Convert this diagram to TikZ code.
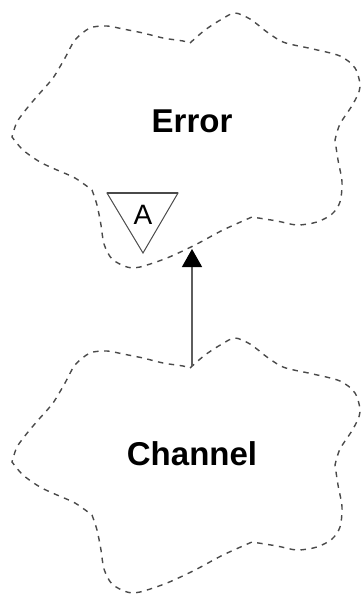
\documentclass[tikz,border=0pt]{standalone}
\usepackage{fontspec}
\setmainfont{Liberation Sans}
\usetikzlibrary{arrows.meta}
\definecolor{cloudline}{HTML}{4A4A4A}
\definecolor{linkline}{HTML}{5E5E5E}

\begin{document}
\begin{tikzpicture}[x=1pt,y=-1pt,
  cloud/.style={draw=cloudline,line width=1.4pt,dash pattern=on 5.5pt off 5.5pt},
  classname/.style={font=\fontsize{33}{36}\selectfont\bfseries,inner sep=0pt,anchor=base},
  adorn/.style={draw=cloudline,line width=1pt},
  arrow/.style={-{Triangle[length=18pt,width=20pt,color=black]},line width=1.3pt,draw=linkline}
]
\useasboundingbox (0,0) rectangle (361,596);
\foreach \dy/\ty/\name/\label in {0/133/error/Error,325/465/channel/Channel} {
  \begin{scope}[shift={(0,\dy)}]
    \draw[cloud] plot[smooth] coordinates {(190,43) (205,30) (222,19) (235,13) (250,19) (263,29)}
      -- plot[smooth] coordinates {(263,29) (283,42) (313,49) (340,56) (355,68) (360,87) (353,104) (340,124) (335,140)}
      -- plot[smooth] coordinates {(335,140) (338,160) (342,182) (340,202) (332,214) (317,222) (297,225) (277,221) (252,217)}
      -- plot[smooth] coordinates {(252,217) (223,230) (195,245) (167,258) (140,267) (127,267) (112,259) (104,244) (101,225) (97,205) (92,190)}
      -- plot[smooth] coordinates {(92,190) (75,178) (57,170) (40,162) (23,150) (12,137)}
      -- plot[smooth] coordinates {(12,137) (17,122) (28,107) (40,93) (53,78) (65,58) (75,40) (90,28) (107,26) (123,29) (143,33) (163,38) (183,41) (190,43)};
  \end{scope}
  \node[classname] (\name) at (192,\ty) {\label};
}
% abstract adornment
\draw[adorn] (107,193) -- (178,193) -- (143,253) -- cycle;
\draw[adorn,line width=1.8pt] (107,192.6) -- (178,192.6);
\node[font=\fontsize{28}{30}\selectfont,inner sep=0pt,anchor=base] (abstract) at (143,224.5) {A};
% inheritance
\coordinate (errorbottom) at (192,249);
\coordinate (channeltop) at (192,366);
\draw[arrow] (channeltop) -- (errorbottom);
\end{tikzpicture}
\end{document}
